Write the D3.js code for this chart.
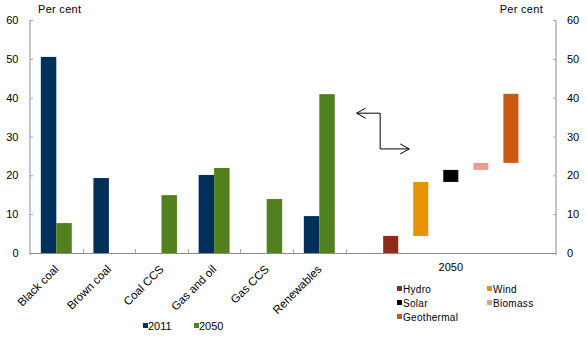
<!DOCTYPE html>
<html><head><meta charset="utf-8">
<script src="https://cdn.jsdelivr.net/npm/d3@7"></script>
<style>body{margin:0;background:#fff}svg{display:block}text{font-family:"Liberation Sans",Arial,sans-serif;fill:#000}</style>
</head><body><svg id="c" width="587" height="338"></svg>
<script>
const categories = ["Black coal","Brown coal","Coal CCS","Gas and oil","Gas CCS","Renewables"];
const series = ["2011","2050"];
const values2011 = [50.5,19.3,0,20.1,0,9.5];
const values2050 = [7.7,0,14.9,21.9,13.9,40.9];
const renewTypes = ["Hydro","Wind","Solar","Biomass","Geothermal"];
const renewValues = [4.4,13.9,3.1,1.8,17.8];
const yTicks = [0,10,20,30,40,50,60];
const groupLabel = "2050";
const unitLabel = "Per cent";

(function(){
const colors = {"2011":"#00305a","2050":"#52801e"};
const renewColors = ["#8e2b1b","#e59300","#000000","#e99c90","#c85a13"];

const svg = d3.select("#c");
const pL = 30, pR = 556, pT = 20, pB = 253;
const y = d3.scaleLinear().domain([0,60]).range([pB, pT]);
const slots = categories.concat(["_r1","_r2","_r3","_r4"]);
const x = d3.scaleBand().domain(slots).range([pL,pR]).padding(0);
const bw = x.bandwidth();
const xs = d3.scaleBand().domain(series).range([0,bw]).paddingInner(0).paddingOuter(0.7);
const xr = d3.scaleBand().domain(renewTypes).range([x("_r1"), pR]).paddingInner(0.5).paddingOuter(1.25);

// axes
const yl = d3.axisLeft(y).tickValues(yTicks).tickSize(-3).tickPadding(11);
const gl = svg.append("g").attr("transform",`translate(${pL},0)`).call(yl);
const yr = d3.axisRight(y).tickValues(yTicks).tickSize(-3).tickPadding(11);
const gr = svg.append("g").attr("transform",`translate(${pR},0)`).call(yr);
[gl,gr].forEach(g=>{
  g.select(".domain").attr("stroke","#8c8c8c").attr("d", `M0,${pT}V${pB+2}`);
  g.selectAll(".tick line").attr("stroke","#a6a6a6");
  g.selectAll(".tick text").attr("font-size",11).attr("font-family","Liberation Sans, Arial, sans-serif").attr("fill","#000");
});
gl.selectAll(".tick text").attr("x",-11.5);
gr.selectAll(".tick text").attr("x",11);

// x axis line and ticks
svg.append("line").attr("x1",pL).attr("x2",pR).attr("y1",pB+0.5).attr("y2",pB+0.5).attr("stroke","#8c8c8c");
const tickPos = categories.map(c=>x(c)+bw);
svg.selectAll(".xt").data(tickPos).enter().append("line")
  .attr("x1",d=>Math.round(d)+0.5).attr("x2",d=>Math.round(d)+0.5).attr("y1",pB-4).attr("y2",pB)
  .attr("stroke","#a6a6a6");

// bars
const data = [];
categories.forEach((c,i)=>{ data.push({c,s:"2011",v:values2011[i]}); data.push({c,s:"2050",v:values2050[i]}); });
svg.selectAll(".bar").data(data.filter(d=>d.v>0)).enter().append("rect")
  .attr("x",d=>x(d.c)+xs(d.s)).attr("width",xs.bandwidth())
  .attr("y",d=>y(d.v)).attr("height",d=>y(0)-y(d.v)).attr("fill",d=>colors[d.s]);

// floating renewables
let cum = 0;
const rdata = renewTypes.map((t,i)=>{ const d={t,lo:cum,hi:cum+renewValues[i],col:renewColors[i]}; cum+=renewValues[i]; return d; });
svg.selectAll(".rb").data(rdata).enter().append("rect")
  .attr("x",d=>xr(d.t)).attr("width",xr.bandwidth())
  .attr("y",d=>y(d.hi)).attr("height",d=>y(d.lo)-y(d.hi)).attr("fill",d=>d.col);

// category labels
svg.selectAll(".cl").data(categories).enter().append("text")
  .attr("transform",d=>`translate(${x(d)+bw/2+3},${pB+17}) rotate(-45)`)
  .attr("text-anchor","end").attr("font-size",11.5).text(d=>d);

// group label
svg.append("text").attr("x",(x("_r1")+pR)/2).attr("y",271).attr("text-anchor","middle").attr("font-size",11).text(groupLabel);

// unit labels
svg.append("text").attr("x",38).attr("y",13).attr("font-size",11).attr("letter-spacing",0.3).text(unitLabel);
svg.append("text").attr("x",543).attr("y",13).attr("text-anchor","end").attr("font-size",11).attr("letter-spacing",0.3).text(unitLabel);

// arrow
const ax0 = x("Renewables")+bw+11, axc = xr("Hydro")-3, ax1 = xr("Wind")-4;
const ay0 = y(36), ay1 = y(26.8);
const ag = svg.append("g").attr("fill","none").attr("stroke","#000").attr("stroke-width",1);
ag.append("path").attr("d",`M${ax0},${ay0}H${axc}V${ay1}H${ax1}`);
ag.append("path").attr("d",`M${ax0+9},${ay0-5}L${ax0},${ay0}L${ax0+9},${ay0+5}`);
ag.append("path").attr("d",`M${ax1-9},${ay1-5}L${ax1},${ay1}L${ax1-9},${ay1+5}`);

// legend bottom
const lg = svg.append("g");
const lpos = [143,194];
series.forEach((s,i)=>{
  lg.append("rect").attr("x",lpos[i]).attr("y",323).attr("width",5).attr("height",5).attr("fill",colors[s]);
  lg.append("text").attr("x",lpos[i]+5).attr("y",330).attr("font-size",11).text(s);
});
// legend right
const rl = svg.append("g");
renewTypes.forEach((t,i)=>{
  const cx = i%2===0 ? 397 : 487, cy = 286 + Math.floor(i/2)*14;
  rl.append("rect").attr("x",cx).attr("y",cy).attr("width",5).attr("height",5).attr("fill",renewColors[i]);
  rl.append("text").attr("x",cx+6).attr("y",cy+6.5).attr("font-size",10).attr("letter-spacing",0.3).text(t);
});
})();
</script></body></html>
